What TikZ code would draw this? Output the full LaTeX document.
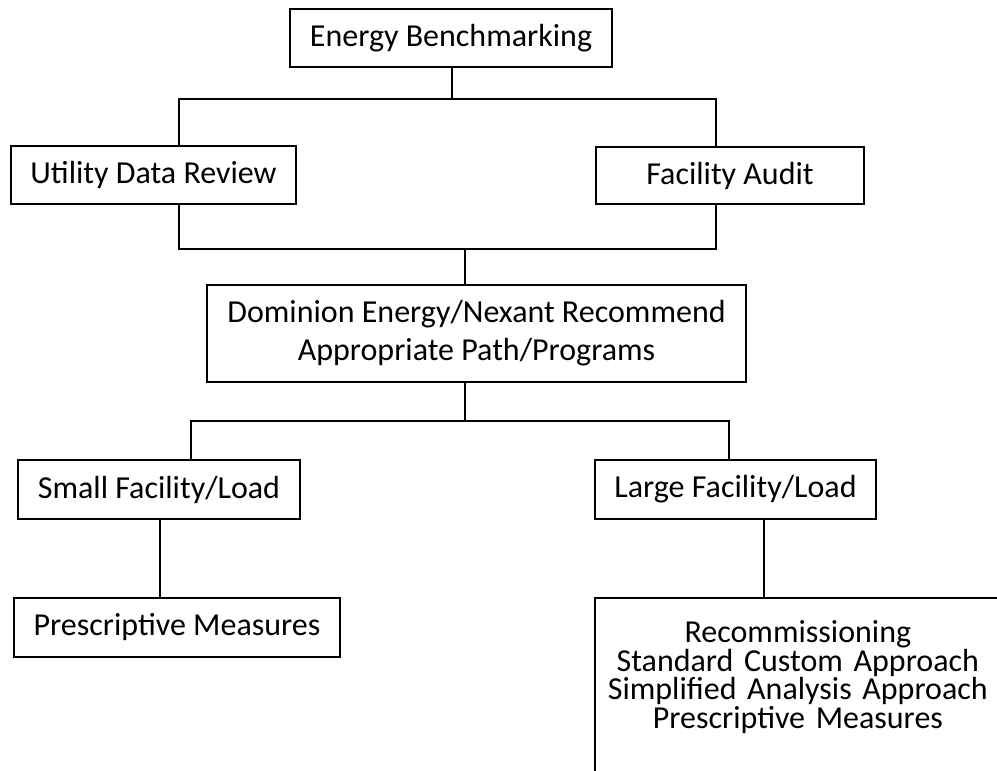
\documentclass[tikz,border=0pt]{standalone}
\usepackage{fontspec}
\setmainfont{Carlito}
\tikzset{
  boxnode/.style={draw, line width=1.7pt, inner sep=0pt, align=center,
    font=\fontsize{32}{38}\selectfont},
  link/.style={line width=1.4pt}
}
\begin{document}
\lineskiplimit=-100pt
\begin{tikzpicture}[x=1pt,y=-1pt]
\useasboundingbox (0,0) rectangle (997,771);
\clip (0,0) rectangle (997,771);
\fill[white] (0,0) rectangle (997,771);

\node[boxnode, minimum width=322pt, minimum height=58pt] (eb) at (451,38) {Energy Benchmarking};
\node[boxnode, minimum width=285pt, minimum height=58pt] (udr) at (153.5,175) {Utility Data Review};
\node[boxnode, minimum width=268pt, minimum height=57pt] (fa) at (730,175.5) {Facility Audit};
\node[boxnode, minimum width=539pt, minimum height=97pt] (dom) at (476.5,333.5) {Dominion Energy/Nexant Recommend\\Appropriate Path/Programs};
\node[boxnode, minimum width=282pt, minimum height=59pt] (small) at (159,489.5) {Small Facility/Load};
\node[boxnode, minimum width=281pt, minimum height=59pt] (large) at (735.5,489.5) {Large Facility/Load};
\node[boxnode, minimum width=326pt, minimum height=59pt] (presc) at (177,627.5) {Prescriptive Measures};
\node[boxnode, anchor=north west, text width=406pt, inner xsep=0pt, inner ysep=23pt,
  font=\fontsize{32}{26.7}\selectfont] (rb) at (594,597)
  {Recommissioning\\Standard Custom Approach\\Simplified Analysis Approach\\Prescriptive Measures\rule[-80pt]{0pt}{0pt}};

\coordinate (t0) at (452,99);
\coordinate (t1) at (465,249);
\coordinate (t2) at (465,421);
\coordinate (L1) at (179,0);
\coordinate (R1) at (716,0);
\coordinate (L3) at (191,0);
\coordinate (R3) at (729,0);
\coordinate (L4) at (160,0);
\coordinate (R4) at (764,0);

\draw[link] (eb.south -| t0) -- (t0);
\draw[link] (udr.north -| L1) |- (t0) -| (fa.north -| R1);
\draw[link] (udr.south -| L1) |- (t1) -| (fa.south -| R1);
\draw[link] (t1) -- (dom.north -| t1);
\draw[link] (dom.south -| t2) -- (t2);
\draw[link] (small.north -| L3) |- (t2) -| (large.north -| R3);
\draw[link] (small.south -| L4) -- (presc.north -| L4);
\draw[link] (large.south -| R4) -- (rb.north -| R4);
\end{tikzpicture}
\end{document}
